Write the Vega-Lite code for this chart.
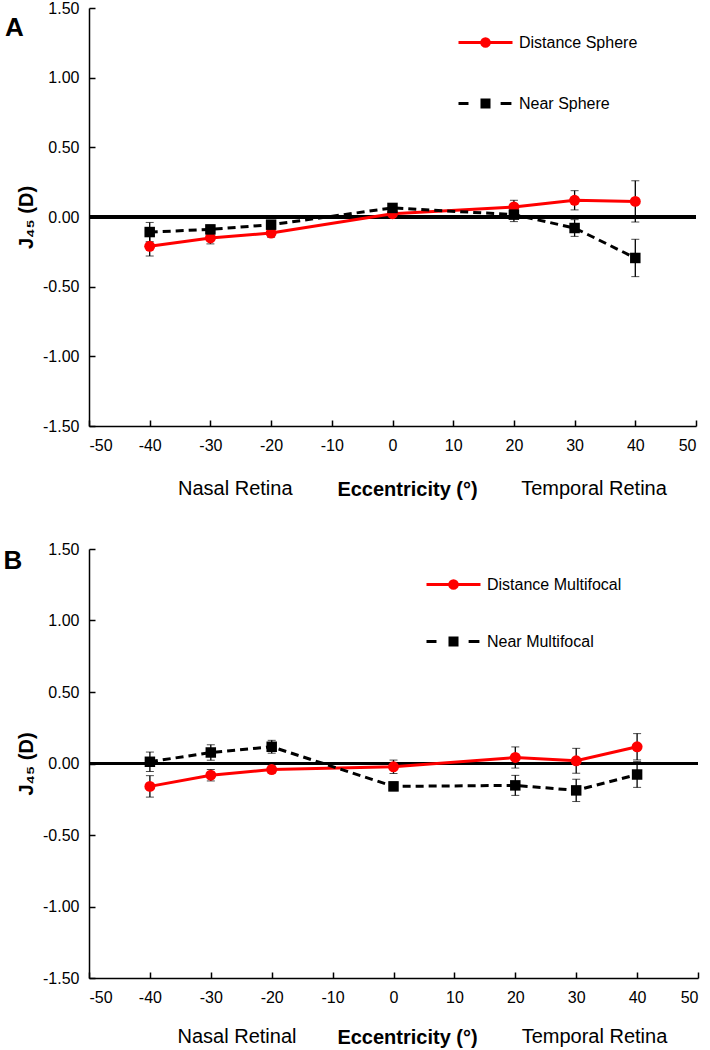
{
  "$schema": "https://vega.github.io/schema/vega-lite/v6.json",
  "background": "white",
  "padding": {"left": 3, "top": 0, "right": 5, "bottom": 0},
  "spacing": 41,
  "config": {
    "font": "Liberation Sans",
    "view": {"stroke": null},
    "axis": {"labelFont": "Liberation Sans", "titleFont": "Liberation Sans", "labelColor": "black", "titleColor": "black", "domainColor": "black", "tickColor": "black", "domainWidth": 1.5, "tickWidth": 1.5, "grid": false, "labelFontSize": 16, "labelFontWeight": "normal"},
    "legend": {"labelFont": "Liberation Sans", "labelFontSize": 16, "labelColor": "black"}
  },
  "datasets": {
    "panelA": [
      {"series": "Distance Sphere", "ecc": -40, "j45": -0.21, "err": 0.07},
      {"series": "Distance Sphere", "ecc": -30, "j45": -0.15, "err": 0.043},
      {"series": "Distance Sphere", "ecc": -20, "j45": -0.115, "err": 0.03},
      {"series": "Distance Sphere", "ecc": 0, "j45": 0.024, "err": 0.03},
      {"series": "Distance Sphere", "ecc": 20, "j45": 0.072, "err": 0.048},
      {"series": "Distance Sphere", "ecc": 30, "j45": 0.12, "err": 0.069},
      {"series": "Distance Sphere", "ecc": 40, "j45": 0.112, "err": 0.148},
      {"series": "Near Sphere", "ecc": -40, "j45": -0.108, "err": 0.069},
      {"series": "Near Sphere", "ecc": -30, "j45": -0.089, "err": 0.03},
      {"series": "Near Sphere", "ecc": -20, "j45": -0.055, "err": 0.025},
      {"series": "Near Sphere", "ecc": 0, "j45": 0.065, "err": 0.03},
      {"series": "Near Sphere", "ecc": 20, "j45": 0.017, "err": 0.05},
      {"series": "Near Sphere", "ecc": 30, "j45": -0.079, "err": 0.06},
      {"series": "Near Sphere", "ecc": 40, "j45": -0.294, "err": 0.134}
    ],
    "panelB": [
      {"series": "Distance Multifocal", "ecc": -40, "j45": -0.16, "err": 0.075},
      {"series": "Distance Multifocal", "ecc": -30, "j45": -0.082, "err": 0.04},
      {"series": "Distance Multifocal", "ecc": -20, "j45": -0.042, "err": 0.025},
      {"series": "Distance Multifocal", "ecc": 0, "j45": -0.023, "err": 0.047},
      {"series": "Distance Multifocal", "ecc": 20, "j45": 0.042, "err": 0.074},
      {"series": "Distance Multifocal", "ecc": 30, "j45": 0.019, "err": 0.087},
      {"series": "Distance Multifocal", "ecc": 40, "j45": 0.117, "err": 0.092},
      {"series": "Near Multifocal", "ecc": -40, "j45": 0.012, "err": 0.068},
      {"series": "Near Multifocal", "ecc": -30, "j45": 0.077, "err": 0.054},
      {"series": "Near Multifocal", "ecc": -20, "j45": 0.117, "err": 0.045},
      {"series": "Near Multifocal", "ecc": 0, "j45": -0.16, "err": 0.03},
      {"series": "Near Multifocal", "ecc": 20, "j45": -0.153, "err": 0.07},
      {"series": "Near Multifocal", "ecc": 30, "j45": -0.188, "err": 0.078},
      {"series": "Near Multifocal", "ecc": 40, "j45": -0.077, "err": 0.09}
    ]
  },
  "resolve": {
    "scale": {"x": "independent", "y": "independent", "fill": "independent", "stroke": "independent", "shape": "independent"},
    "legend": {"fill": "independent", "stroke": "independent", "shape": "independent"}
  },
  "vconcat": [
    {
      "width": 607,
      "height": 418,
      "layer": [
        {
          "data": {"name": "panelA"},
          "encoding": {
            "x": {"field": "ecc", "type": "quantitative", "scale": {"domain": [-50, 50], "nice": false},
              "axis": {"values": [-50, -40, -30, -20, -10, 0, 10, 20, 30, 40, 50], "labelExpr": "datum.value < 0 ? '-' + format(-datum.value, 'd') : format(datum.value, 'd')", "title": "Eccentricity (°)", "titleFontWeight": "bold", "titleFontSize": 20, "titleX": 318, "titleY": 63, "titleBaseline": "middle", "tickSize": -6, "labelPadding": 17}},
            "y": {"field": "j45", "type": "quantitative", "scale": {"domain": [-1.5, 1.5], "nice": false},
              "axis": {"values": [-1.5, -1, -0.5, 0, 0.5, 1, 1.5], "labelExpr": "datum.value < 0 ? '-' + format(-datum.value, '.2f') : format(datum.value, '.2f')", "title": "J₄₅ (D)", "titleFontWeight": "bold", "titleFontSize": 20, "titleX": -63, "titleBaseline": "middle", "tickSize": -6, "labelPadding": 16}}
          },
          "layer": [
            {
              "mark": {"type": "rule", "color": "black", "strokeWidth": 3},
              "encoding": {"x": {"datum": -50}, "x2": {"datum": 50}, "y": {"datum": 0}}
            },
            {
              "mark": {"type": "errorbar", "ticks": {"size": 8, "color": "black", "strokeWidth": 1.3}, "rule": {"color": "black", "strokeWidth": 1.3}},
              "encoding": {"yError": {"field": "err"}, "detail": {"field": "series"}}
            },
            {
              "transform": [{"filter": "datum.series === 'Distance Sphere'"}],
              "mark": {"type": "line", "strokeWidth": 3, "color": "#ff0000"},
              "encoding": {}
            },
            {
              "transform": [{"filter": "datum.series === 'Near Sphere'"}],
              "mark": {"type": "line", "strokeWidth": 3, "color": "#000000", "strokeDash": [8, 5]},
              "encoding": {}
            },
            {
              "transform": [{"filter": "datum.series === 'Distance Sphere'"}],
              "mark": {"type": "point", "filled": true, "opacity": 1, "size": 120, "shape": "circle", "color": "#ff0000"},
              "encoding": {}
            },
            {
              "transform": [{"filter": "datum.series === 'Near Sphere'"}],
              "mark": {"type": "point", "filled": true, "opacity": 1, "size": 110, "shape": "square", "color": "#000000"},
              "encoding": {}
            },
            {
              "transform": [{"filter": "false"}],
              "mark": {"type": "point", "strokeWidth": 3, "opacity": 1},
              "encoding": {
                "fill": {"field": "series", "type": "nominal", "scale": {"domain": ["Distance Sphere", "Near Sphere"], "range": ["#ff0000", "#000000"]},
                  "legend": {"orient": "none", "legendX": 368, "legendY": 6, "title": null, "symbolSize": 2916, "symbolStrokeWidth": 3, "labelOffset": 5, "rowPadding": 22, "padding": 0}},
                "stroke": {"field": "series", "type": "nominal", "scale": {"domain": ["Distance Sphere", "Near Sphere"], "range": ["#ff0000", "#000000"]},
                  "legend": {"orient": "none", "legendX": 368, "legendY": 6, "title": null, "symbolSize": 2916, "symbolStrokeWidth": 3, "labelOffset": 5, "rowPadding": 22, "padding": 0}},
                "shape": {"field": "series", "type": "nominal", "scale": {"domain": ["Distance Sphere", "Near Sphere"], "range": ["M-1,0H1M0.14,0A0.14,0.14,0,1,1,-0.14,0A0.14,0.14,0,1,1,0.14,0Z", "M-1,0H-0.63M0.56,0H0.96M-0.13,-0.13H0.13V0.13H-0.13Z"]},
                  "legend": {"orient": "none", "legendX": 368, "legendY": 6, "title": null, "symbolSize": 2916, "symbolStrokeWidth": 3, "labelOffset": 5, "rowPadding": 22, "padding": 0}}
              }
            }
          ]
        },
        {
          "data": {"values": [{"label": "Nasal Retina", "ecc": -25.9}, {"label": "Temporal Retina", "ecc": 33.2}]},
          "mark": {"type": "text", "fontSize": 20, "baseline": "middle", "align": "center", "color": "black", "font": "Liberation Sans"},
          "encoding": {"x": {"field": "ecc", "type": "quantitative", "title": "Eccentricity (°)"}, "y": {"datum": -1.953}, "text": {"field": "label", "type": "nominal"}}
        },
        {
          "data": {"values": [{"panel": "A", "ecc": -62.3, "j45": 1.353}]},
          "mark": {"type": "text", "fontSize": 26, "fontWeight": "bold", "baseline": "middle", "align": "center", "color": "black", "font": "Liberation Sans"},
          "encoding": {"x": {"field": "ecc", "type": "quantitative", "title": "Eccentricity (°)"}, "y": {"field": "j45", "type": "quantitative", "title": "J₄₅ (D)"}, "text": {"field": "panel", "type": "nominal"}}
        }
      ]
    },
    {
      "width": 609,
      "height": 429,
      "layer": [
        {
          "data": {"name": "panelB"},
          "encoding": {
            "x": {"field": "ecc", "type": "quantitative", "scale": {"domain": [-50, 50], "nice": false},
              "axis": {"values": [-50, -40, -30, -20, -10, 0, 10, 20, 30, 40, 50], "labelExpr": "datum.value < 0 ? '-' + format(-datum.value, 'd') : format(datum.value, 'd')", "title": "Eccentricity (°)", "titleFontWeight": "bold", "titleFontSize": 20, "titleX": 318, "titleY": 59, "titleBaseline": "middle", "tickSize": -6, "labelPadding": 17}},
            "y": {"field": "j45", "type": "quantitative", "scale": {"domain": [-1.5, 1.5], "nice": false},
              "axis": {"values": [-1.5, -1, -0.5, 0, 0.5, 1, 1.5], "labelExpr": "datum.value < 0 ? '-' + format(-datum.value, '.2f') : format(datum.value, '.2f')", "title": "J₄₅ (D)", "titleFontWeight": "bold", "titleFontSize": 20, "titleX": -63, "titleBaseline": "middle", "tickSize": -6, "labelPadding": 16}}
          },
          "layer": [
            {
              "mark": {"type": "rule", "color": "black", "strokeWidth": 3},
              "encoding": {"x": {"datum": -50}, "x2": {"datum": 50}, "y": {"datum": 0}}
            },
            {
              "mark": {"type": "errorbar", "ticks": {"size": 8, "color": "black", "strokeWidth": 1.3}, "rule": {"color": "black", "strokeWidth": 1.3}},
              "encoding": {"yError": {"field": "err"}, "detail": {"field": "series"}}
            },
            {
              "transform": [{"filter": "datum.series === 'Distance Multifocal'"}],
              "mark": {"type": "line", "strokeWidth": 3, "color": "#ff0000"},
              "encoding": {}
            },
            {
              "transform": [{"filter": "datum.series === 'Near Multifocal'"}],
              "mark": {"type": "line", "strokeWidth": 3, "color": "#000000", "strokeDash": [8, 5]},
              "encoding": {}
            },
            {
              "transform": [{"filter": "datum.series === 'Distance Multifocal'"}],
              "mark": {"type": "point", "filled": true, "opacity": 1, "size": 120, "shape": "circle", "color": "#ff0000"},
              "encoding": {}
            },
            {
              "transform": [{"filter": "datum.series === 'Near Multifocal'"}],
              "mark": {"type": "point", "filled": true, "opacity": 1, "size": 110, "shape": "square", "color": "#000000"},
              "encoding": {}
            },
            {
              "transform": [{"filter": "false"}],
              "mark": {"type": "point", "strokeWidth": 3, "opacity": 1},
              "encoding": {
                "fill": {"field": "series", "type": "nominal", "scale": {"domain": ["Distance Multifocal", "Near Multifocal"], "range": ["#ff0000", "#000000"]},
                  "legend": {"orient": "none", "legendX": 336, "legendY": 7, "title": null, "symbolSize": 2916, "symbolStrokeWidth": 3, "labelOffset": 5, "rowPadding": 18, "padding": 0}},
                "stroke": {"field": "series", "type": "nominal", "scale": {"domain": ["Distance Multifocal", "Near Multifocal"], "range": ["#ff0000", "#000000"]},
                  "legend": {"orient": "none", "legendX": 336, "legendY": 7, "title": null, "symbolSize": 2916, "symbolStrokeWidth": 3, "labelOffset": 5, "rowPadding": 18, "padding": 0}},
                "shape": {"field": "series", "type": "nominal", "scale": {"domain": ["Distance Multifocal", "Near Multifocal"], "range": ["M-1,0H1M0.14,0A0.14,0.14,0,1,1,-0.14,0A0.14,0.14,0,1,1,0.14,0Z", "M-1,0H-0.63M0.56,0H0.96M-0.13,-0.13H0.13V0.13H-0.13Z"]},
                  "legend": {"orient": "none", "legendX": 336, "legendY": 7, "title": null, "symbolSize": 2916, "symbolStrokeWidth": 3, "labelOffset": 5, "rowPadding": 18, "padding": 0}}
              }
            }
          ]
        },
        {
          "data": {"values": [{"label": "Nasal Retinal", "ecc": -25.7}, {"label": "Temporal Retina", "ecc": 33.0}]},
          "mark": {"type": "text", "fontSize": 20, "baseline": "middle", "align": "center", "color": "black", "font": "Liberation Sans"},
          "encoding": {"x": {"field": "ecc", "type": "quantitative", "title": "Eccentricity (°)"}, "y": {"datum": -1.913}, "text": {"field": "label", "type": "nominal"}}
        },
        {
          "data": {"values": [{"panel": "B", "ecc": -62.5, "j45": 1.416}]},
          "mark": {"type": "text", "fontSize": 26, "fontWeight": "bold", "baseline": "middle", "align": "center", "color": "black", "font": "Liberation Sans"},
          "encoding": {"x": {"field": "ecc", "type": "quantitative", "title": "Eccentricity (°)"}, "y": {"field": "j45", "type": "quantitative", "title": "J₄₅ (D)"}, "text": {"field": "panel", "type": "nominal"}}
        }
      ]
    }
  ]
}
